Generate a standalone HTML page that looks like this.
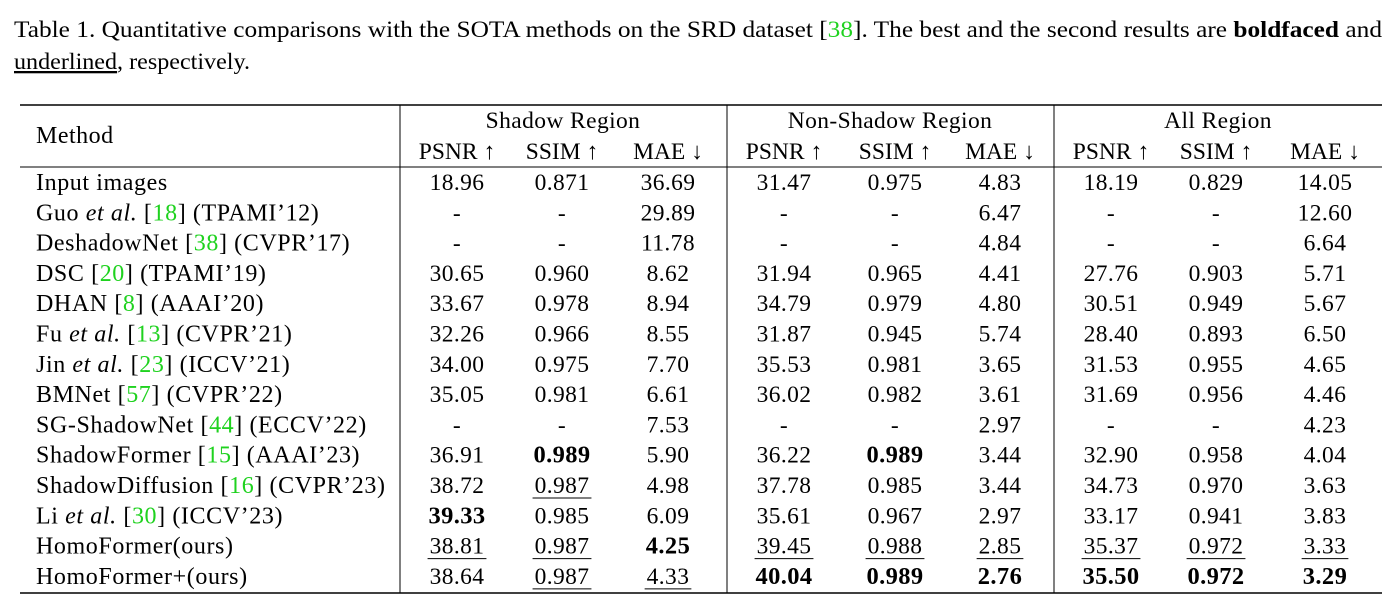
<!DOCTYPE html>
<html><head><meta charset="utf-8"><style>
html,body{margin:0;padding:0;background:#fff;}
svg{display:block;font-family:"Liberation Serif",serif;}
.g{fill:#1fd21f}
</style></head><body>
<svg id="s" width="1400" height="614" xmlns="http://www.w3.org/2000/svg">
<text x="14" y="37" font-size="23" textLength="1368" lengthAdjust="spacingAndGlyphs">Table 1. Quantitative comparisons with the SOTA methods on the SRD dataset [<tspan class="g">38</tspan>]. The best and the second results are <tspan font-weight="bold">boldfaced</tspan> and</text>
<text x="14" y="69" font-size="23" textLength="236" lengthAdjust="spacingAndGlyphs"><tspan text-decoration="underline">underlined</tspan>, respectively.</text>
<line x1="20" y1="105" x2="1382" y2="105" stroke="#000" stroke-width="1.5"/>
<line x1="20" y1="167" x2="1382" y2="167" stroke="#000" stroke-width="1"/>
<line x1="20" y1="593" x2="1382" y2="593" stroke="#000" stroke-width="1.5"/>
<line x1="400" y1="105" x2="400" y2="593" stroke="#000" stroke-width="1"/>
<line x1="727" y1="105" x2="727" y2="593" stroke="#000" stroke-width="1"/>
<line x1="1054" y1="105" x2="1054" y2="593" stroke="#000" stroke-width="1"/>
<text x="36" y="143" font-size="24" letter-spacing="0.5">Method</text>
<text x="563" y="128" font-size="23.5" letter-spacing="0.4" text-anchor="middle">Shadow Region</text>
<text x="890" y="128" font-size="23.5" letter-spacing="0.4" text-anchor="middle">Non-Shadow Region</text>
<text x="1218" y="128" font-size="23.5" letter-spacing="0.4" text-anchor="middle">All Region</text>
<g id="body"></g>
</svg>
<script>
const colX=[457,562,668,784,895,1000,1111,1216,1325];
const colHeads=["PSNR ↑","SSIM ↑","MAE ↓","PSNR ↑","SSIM ↑","MAE ↓","PSNR ↑","SSIM ↑","MAE ↓"];
const methods=[
 [["Input images"]],
 [["Guo "],["et al.","i"],[" ["],["18","g"],["] (TPAMI’12)"]],
 [["DeshadowNet ["],["38","g"],["] (CVPR’17)"]],
 [["DSC ["],["20","g"],["] (TPAMI’19)"]],
 [["DHAN ["],["8","g"],["] (AAAI’20)"]],
 [["Fu "],["et al.","i"],[" ["],["13","g"],["] (CVPR’21)"]],
 [["Jin "],["et al.","i"],[" ["],["23","g"],["] (ICCV’21)"]],
 [["BMNet ["],["57","g"],["] (CVPR’22)"]],
 [["SG-ShadowNet ["],["44","g"],["] (ECCV’22)"]],
 [["ShadowFormer ["],["15","g"],["] (AAAI’23)"]],
 [["ShadowDiffusion ["],["16","g"],["] (CVPR’23)"]],
 [["Li "],["et al.","i"],[" ["],["30","g"],["] (ICCV’23)"]],
 [["HomoFormer(ours)"]],
 [["HomoFormer+(ours)"]]
];
const values=[
 ["18.96","0.871","36.69","31.47","0.975","4.83","18.19","0.829","14.05"],
 ["-","-","29.89","-","-","6.47","-","-","12.60"],
 ["-","-","11.78","-","-","4.84","-","-","6.64"],
 ["30.65","0.960","8.62","31.94","0.965","4.41","27.76","0.903","5.71"],
 ["33.67","0.978","8.94","34.79","0.979","4.80","30.51","0.949","5.67"],
 ["32.26","0.966","8.55","31.87","0.945","5.74","28.40","0.893","6.50"],
 ["34.00","0.975","7.70","35.53","0.981","3.65","31.53","0.955","4.65"],
 ["35.05","0.981","6.61","36.02","0.982","3.61","31.69","0.956","4.46"],
 ["-","-","7.53","-","-","2.97","-","-","4.23"],
 ["36.91","*0.989","5.90","36.22","*0.989","3.44","32.90","0.958","4.04"],
 ["38.72","_0.987","4.98","37.78","0.985","3.44","34.73","0.970","3.63"],
 ["*39.33","0.985","6.09","35.61","0.967","2.97","33.17","0.941","3.83"],
 ["_38.81","_0.987","*4.25","_39.45","_0.988","_2.85","_35.37","_0.972","_3.33"],
 ["38.64","_0.987","_4.33","*40.04","*0.989","*2.76","*35.50","*0.972","*3.29"]
];
const NS="http://www.w3.org/2000/svg";
const body=document.getElementById('body');
colHeads.forEach((h,j)=>{
 const t=document.createElementNS(NS,'text');
 
 
 t.setAttribute('x',colX[j]);t.setAttribute('y',159);t.setAttribute('font-size','23.5');t.setAttribute('text-anchor','middle');
 t.textContent=h;body.appendChild(t);
});
const y0=182,dy=30.3;
methods.forEach((parts,i)=>{
 const y=y0+dy*i+8;
 const t=document.createElementNS(NS,'text');
 
 
 t.setAttribute('x',36);t.setAttribute('y',y);t.setAttribute('font-size','24');t.setAttribute('letter-spacing','0.6');
 parts.forEach(p=>{const s=document.createElementNS(NS,'tspan');s.textContent=p[0];
  if(p[1]==='i')s.setAttribute('font-style','italic');if(p[1]==='g')s.setAttribute('class','g');t.appendChild(s);});
 body.appendChild(t);
 values[i].forEach((v,j)=>{
  let bold=false,ul=false;
  if(v[0]==='*'){bold=true;v=v.slice(1);} else if(v[0]==='_'){ul=true;v=v.slice(1);}
  const c=document.createElementNS(NS,'text');
  
  
  c.setAttribute('x',colX[j]);c.setAttribute('y',y);c.setAttribute('font-size','23.5');c.setAttribute('text-anchor','middle');c.setAttribute('letter-spacing','0.4');
  if(bold){c.setAttribute('font-weight','bold');c.setAttribute('font-size','24.5');}
  c.textContent=v;body.appendChild(c);
  if(ul){const w=c.getComputedTextLength();
   const l=document.createElementNS(NS,'line');
   
   
   l.setAttribute('x1',colX[j]-w/2-2);l.setAttribute('x2',colX[j]+w/2+2);
   l.setAttribute('y1',y+5);l.setAttribute('y2',y+5);l.setAttribute('stroke','#000');l.setAttribute('stroke-width','1');
   body.appendChild(l);}
 });
});
</script>
</body></html>
